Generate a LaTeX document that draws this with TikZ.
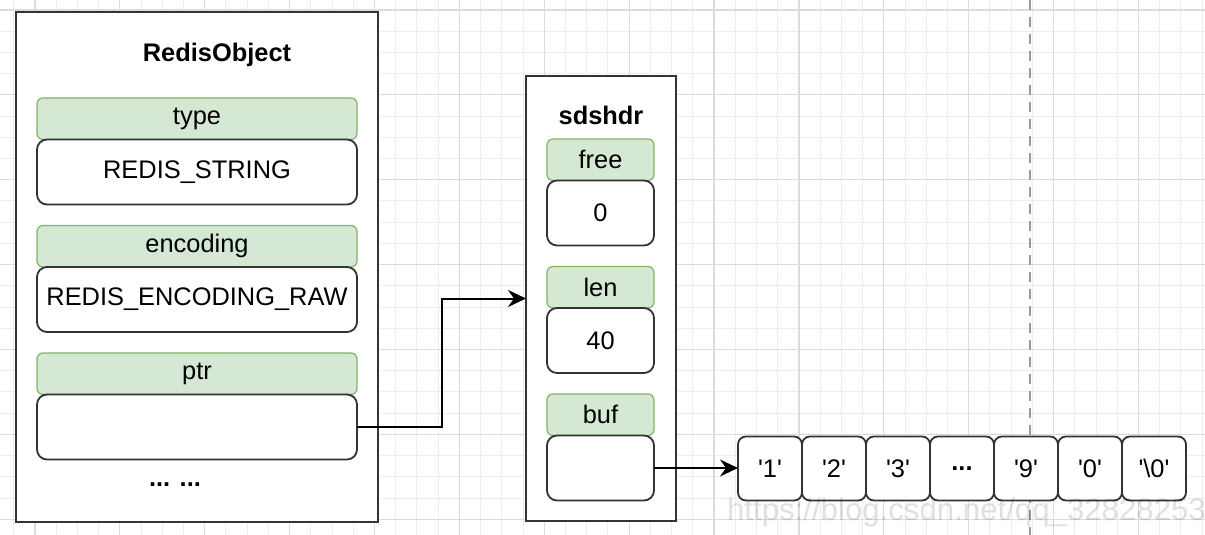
\documentclass[tikz,border=0pt]{standalone}
\usepackage{fontspec}
\setmainfont{Liberation Sans}
\usetikzlibrary{arrows.meta,positioning}
\definecolor{fieldgreen}{HTML}{D5E8D4}
\definecolor{fieldline}{HTML}{82B366}
\definecolor{boxline}{HTML}{333333}
\newcommand{\chr}[1]{\textquotesingle#1\textquotesingle}

\begin{document}
\begin{tikzpicture}[x=.5pt,y=-.5pt,
font=\fontsize{12.7}{15}\selectfont,
gridminor/.style={draw=black!7,line width=.5pt},
gridmajor/.style={draw=black!14,line width=.6pt},
frame/.style={draw=boxline,line width=1pt,fill=white,inner sep=0,outer sep=0},
title/.style={font=\fontsize{12.7}{15}\selectfont\bfseries},
fieldname/.style={draw=fieldline,fill=fieldgreen,rounded corners=3pt,line width=.6pt,minimum height=20.75pt,inner sep=0,outer sep=0},
fieldval/.style={draw=boxline,fill=white,rounded corners=5pt,line width=.9pt,minimum height=32.5pt,inner sep=0,outer sep=0},
rfield/.style={minimum width=160pt},
sfield/.style={minimum width=53.5pt},
cell/.style={fieldval,rounded corners=4pt,minimum width=32pt,minimum height=32pt},
arr/.style={-{Stealth[length=9pt,width=8.5pt,inset=3pt]},line width=1pt}]
\useasboundingbox[fill=white](0,0)rectangle(1205,535);
% background grid
\foreach \k in {-1,...,55} \draw[gridminor]({35+21.22*\k},0)--++(0,535);
\foreach \k in {0,...,24} \draw[gridminor](0,{10+21.22*\k})--++(1205,0);
\foreach \k in {0,...,13} \draw[gridmajor]({35+84.88*\k},0)--++(0,535);
\foreach \k in {0,...,6} \draw[gridmajor](0,{10+84.88*\k})--++(1205,0);
\draw[black!40,line width=.8pt,dash pattern=on 5pt off 3.5pt](1030,0)--(1030,535);
% redisObject
\node[frame,minimum width=181pt,minimum height=255pt](robj) at (197,267){};
\node[title](robjtitle) at (217,55){RedisObject};
\node[fieldname,rfield](type) at (197,118.75){type};
\node[fieldval,rfield,below=0pt of type](typeval){REDIS\_STRING};
\node[fieldname,rfield,below=10.5pt of typeval](enc){encoding};
\node[fieldval,rfield,below=0pt of enc](encval){REDIS\_ENCODING\_RAW};
\node[fieldname,rfield,below=10.5pt of encval](ptr){ptr};
\node[fieldval,rfield,below=0pt of ptr](ptrval){};
\node[title](robjmore) at (175,485){... ...};
% sdshdr
\node[frame,minimum width=75pt,minimum height=222.5pt](sds) at (601,298.5){};
\node[title](sdstitle) at (601,115){sdshdr};
\node[fieldname,sfield](free) at (600.5,159.75){free};
\node[fieldval,sfield,below=0pt of free](freeval){0};
\node[fieldname,sfield,below=10.5pt of freeval](len){len};
\node[fieldval,sfield,below=0pt of len](lenval){40};
\node[fieldname,sfield,below=10.5pt of lenval](buf){buf};
\node[fieldval,sfield,below=0pt of buf](bufval){};
% buf contents
\node[cell](c1) at (770,468.5){\chr{1}};
\foreach \ch [count=\i from 2] in {\chr{2},\chr{3},\textbf{...},\chr{9},\chr{0},\chr{\textbackslash 0}}{
  \pgfmathtruncatemacro\prev{\i-1}
  \node[cell,right=0pt of c\prev](c\i){\ch};}
\draw[arr](ptrval.east)--++(84.5,0)|-(sds.west);
\draw[arr](bufval.east)--(bufval.east-|c1.west);
% watermark
\begin{scope}
\clip(0,0)rectangle(1205,535);
\node[anchor=base west,text=black,opacity=.12,font=\fontsize{15.6}{17}\selectfont](wm) at (720,520){https://blog.csdn.net/qq\_32828253};
\end{scope}
\end{tikzpicture}
\end{document}
